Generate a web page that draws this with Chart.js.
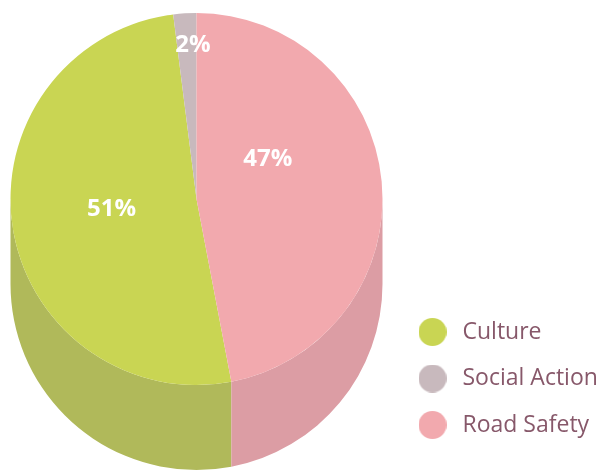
<!DOCTYPE html>
<html><head><meta charset="utf-8">
<script src="https://cdn.jsdelivr.net/npm/chart.js@4/dist/chart.umd.min.js"></script>
<style>html,body{margin:0;padding:0;background:#fff;} canvas{display:block;}</style>
</head><body>
<canvas id="c" width="602" height="471"></canvas>
<script>
// ---- data ----
const categories = ['Culture', 'Social Action', 'Road Safety'];
const shares = [51, 2, 47];
const percentLabels = ['51%', '2%', '47%'];

// ---- styles ----
const topColors = ['#c9d553', '#c8b9bd', '#f2a9ae'];
const sideColors = ['#b0b95a', '#b3a5a9', '#dc9da4'];
const legendTextColor = '#87586a';

const total = shares.reduce((a, b) => a + b, 0);
// Road Safety starts at 12 o'clock, slices run clockwise
const rotationDeg = 360 - (shares[0] + shares[1]) / total * 360;

function dot(color) {
  const c = document.createElement('canvas');
  c.width = 28; c.height = 28;
  const x = c.getContext('2d');
  x.fillStyle = color;
  x.beginPath(); x.arc(14, 14, 14, 0, Math.PI * 2); x.fill();
  return c;
}
const dots = topColors.map(dot);

const cylinder = {
  id: 'cylinder',
  afterLayout(chart, args, opts) {
    const a = opts.area;
    chart.chartArea = {left: a.left, top: a.top, right: a.right, bottom: a.bottom,
      width: a.right - a.left, height: a.bottom - a.top};
  },
  beforeDatasetsDraw(chart, args, opts) {
    const ctx = chart.ctx;
    const meta = chart.getDatasetMeta(0);
    const D = opts.depth;
    meta.data.forEach((arc, i) => {
      const {x, y, startAngle, endAngle, outerRadius: r} = arc.getProps(['x', 'y', 'startAngle', 'endAngle', 'outerRadius'], true);
      for (let k = -2; k <= 2; k++) {
        const a = Math.max(startAngle + k * 2 * Math.PI, 0);
        const b = Math.min(endAngle + k * 2 * Math.PI, Math.PI);
        if (a < b) {
          ctx.save();
          ctx.fillStyle = opts.colors[i];
          ctx.beginPath();
          ctx.arc(x, y, r, a, b);
          ctx.lineTo(x + r * Math.cos(b), y + r * Math.sin(b) + D);
          ctx.arc(x, y + D, r, b, a, true);
          ctx.closePath();
          ctx.fill();
          ctx.restore();
        }
      }
    });
  },
  afterDatasetsDraw(chart, args, opts) {
    const ctx = chart.ctx;
    const meta = chart.getDatasetMeta(0);
    ctx.save();
    ctx.fillStyle = '#ffffff';
    ctx.font = 'bold 24px "Open Sans"';
    ctx.textAlign = 'center';
    ctx.textBaseline = 'middle';
    meta.data.forEach((arc, i) => {
      const {x, y, startAngle, endAngle, outerRadius: r} = arc.getProps(['x', 'y', 'startAngle', 'endAngle', 'outerRadius'], true);
      const p = opts.placement[i];
      const ang = (startAngle + endAngle) / 2 + p.turn * Math.PI / 180;
      ctx.fillText(percentLabels[i], x + Math.cos(ang) * r * p.frac, y + Math.sin(ang) * r * p.frac);
    });
    ctx.restore();
  }
};

new Chart(document.getElementById('c'), {
  type: 'pie',
  data: {
    labels: categories,
    datasets: [{
      data: shares,
      backgroundColor: topColors,
      borderWidth: 0,
      clip: false
    }]
  },
  options: {
    responsive: false,
    animation: false,
    events: [],
    rotation: rotationDeg,
    layout: {padding: {top: 0, left: 0, right: 0, bottom: 11}},
    plugins: {
      tooltip: {enabled: false},
      legend: {
        position: 'right',
        align: 'end',
        maxWidth: 211.5,
        labels: {
          usePointStyle: true,
          pointStyleWidth: 37,
          boxHeight: 23,
          padding: 23.5,
          color: legendTextColor,
          font: {family: '"Open Sans"', size: 23},
          generateLabels(chart) {
            const items = Chart.overrides.pie.plugins.legend.labels.generateLabels(chart);
            items.forEach((it, i) => { it.pointStyle = dots[i]; });
            return items;
          }
        }
      },
      cylinder: {
        area: {left: 10, top: 13, right: 383, bottom: 385},
        depth: 85,
        colors: sideColors,
        placement: [{turn: 2.3, frac: 0.46}, {turn: 2.3, frac: 0.83}, {turn: -24, frac: 0.44}]
      }
    }
  },
  plugins: [cylinder]
});
</script>
</body></html>
